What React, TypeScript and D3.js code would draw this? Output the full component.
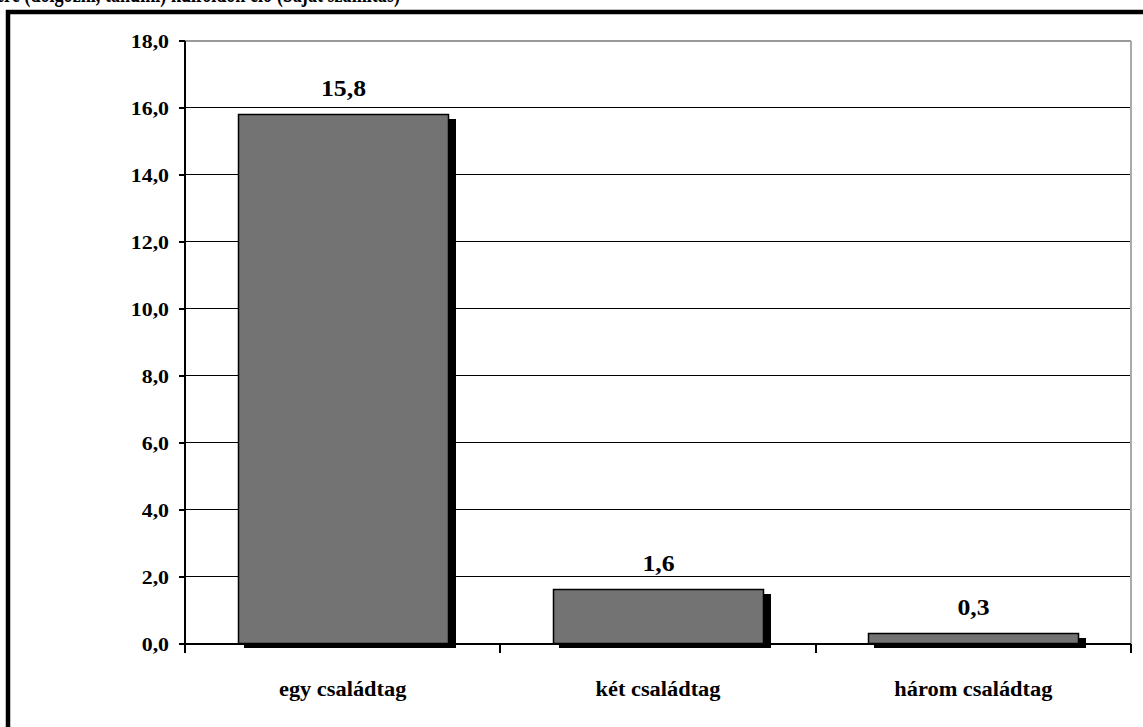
import React from "react";
import * as d3 from "d3";

const categories = ["egy családtag", "két családtag", "három családtag"];
const values = [15.8, 1.6, 0.3];
const yTicks = [0, 2, 4, 6, 8, 10, 12, 14, 16, 18];
const titleText = "ére (dolgozni, tanulni) külföldön élő (Saját számítás)";

const W = 1143;
const H = 727;
const plot = { left: 185, right: 1131, top: 40, bottom: 643 };
const serif = "'Liberation Serif', 'Times New Roman', serif";
const fmt = (v: number) => v.toFixed(1).replace(".", ",");

export default function App() {
  const x = d3
    .scaleBand<string>()
    .domain(categories)
    .range([plot.left, plot.right])
    .paddingInner(0.335)
    .paddingOuter(0.168);
  const xOuter = d3.scaleBand<string>().domain(categories).range([plot.left, plot.right]);
  const y0 = d3.scaleLinear().domain([0, 18]).range([plot.bottom, plot.top]);
  const y = (v: number) => Math.round(y0(v)) + 0.5;
  const boundaries = [plot.left, ...categories.map((c) => Math.round((xOuter(c) as number) + xOuter.bandwidth()))];
  const sx = 1.12;

  return (
    <svg
      width={W}
      height={H}
      style={{ position: "absolute", left: 0, top: 0, background: "#fff" }}
      fontFamily={serif}
      fontWeight="bold"
    >
      <rect x={0} y={0} width={W} height={H} fill="#fff" />
      {/* cut-off title */}
      <text x={-4} y={2} fontSize={26} textLength={404} lengthAdjust="spacingAndGlyphs" fill="#000">
        {titleText}
      </text>
      {/* outer frame */}
      <rect x={8} y={12} width={W + 20} height={H + 20} fill="none" stroke="#000" strokeWidth={4.5} />

      {/* gridlines */}
      {yTicks.filter((t) => t > 0 && t < 18).map((t) => (
        <line key={t} x1={plot.left} x2={plot.right} y1={y(t)} y2={y(t)} stroke="#000" strokeWidth={1} shapeRendering="crispEdges" />
      ))}
      <line x1={plot.left} x2={plot.right} y1={y(18)} y2={y(18)} stroke="#999" strokeWidth={2} shapeRendering="crispEdges" />
      <line x1={plot.right} x2={plot.right} y1={y(18)} y2={y(0)} stroke="#aaa" strokeWidth={2} shapeRendering="crispEdges" />

      {/* bars */}
      {categories.map((c, i) => {
        const bx = Math.round(x(c) as number) + 0.5;
        const bw = Math.round(x.bandwidth());
        const top = y(values[i]);
        return (
          <g key={c}>
            <rect x={bx + 5} y={top + 4} width={bw + 2} height={y(0) - top} fill="#000" shapeRendering="crispEdges" />
            <rect x={bx} y={top} width={bw} height={y(0) - top} fill="#737373" stroke="#000" strokeWidth={1.5} />
            <text
              transform={`translate(${bx + bw / 2},${top - 19}) scale(${sx},1)`}
              textAnchor="middle"
              fontSize={23}
              fill="#000"
            >
              {fmt(values[i])}
            </text>
          </g>
        );
      })}

      {/* axes */}
      <line x1={plot.left} x2={plot.left} y1={y(18)} y2={y(0) + 9} stroke="#000" strokeWidth={2} shapeRendering="crispEdges" />
      <line x1={plot.left} x2={plot.right} y1={y(0)} y2={y(0)} stroke="#000" strokeWidth={2} shapeRendering="crispEdges" />
      {yTicks.map((t) => (
        <g key={t}>
          <line x1={plot.left - 6} x2={plot.left} y1={y(t)} y2={y(t)} stroke="#000" strokeWidth={2} shapeRendering="crispEdges" />
          <text
            transform={`translate(${plot.left - 16},${y(t) + 7}) scale(${sx},1)`}
            textAnchor="end"
            fontSize={19.5}
            fill="#000"
          >
            {fmt(t)}
          </text>
        </g>
      ))}
      {boundaries.map((b, i) => (
        <line key={i} x1={b} x2={b} y1={y(0)} y2={y(0) + 9} stroke="#000" strokeWidth={2} shapeRendering="crispEdges" />
      ))}
      {categories.map((c) => (
        <text
          key={c}
          transform={`translate(${(xOuter(c) as number) + xOuter.bandwidth() / 2},${696}) scale(${sx},1)`}
          textAnchor="middle"
          fontSize={20}
          fill="#000"
        >
          {c}
        </text>
      ))}
    </svg>
  );
}
